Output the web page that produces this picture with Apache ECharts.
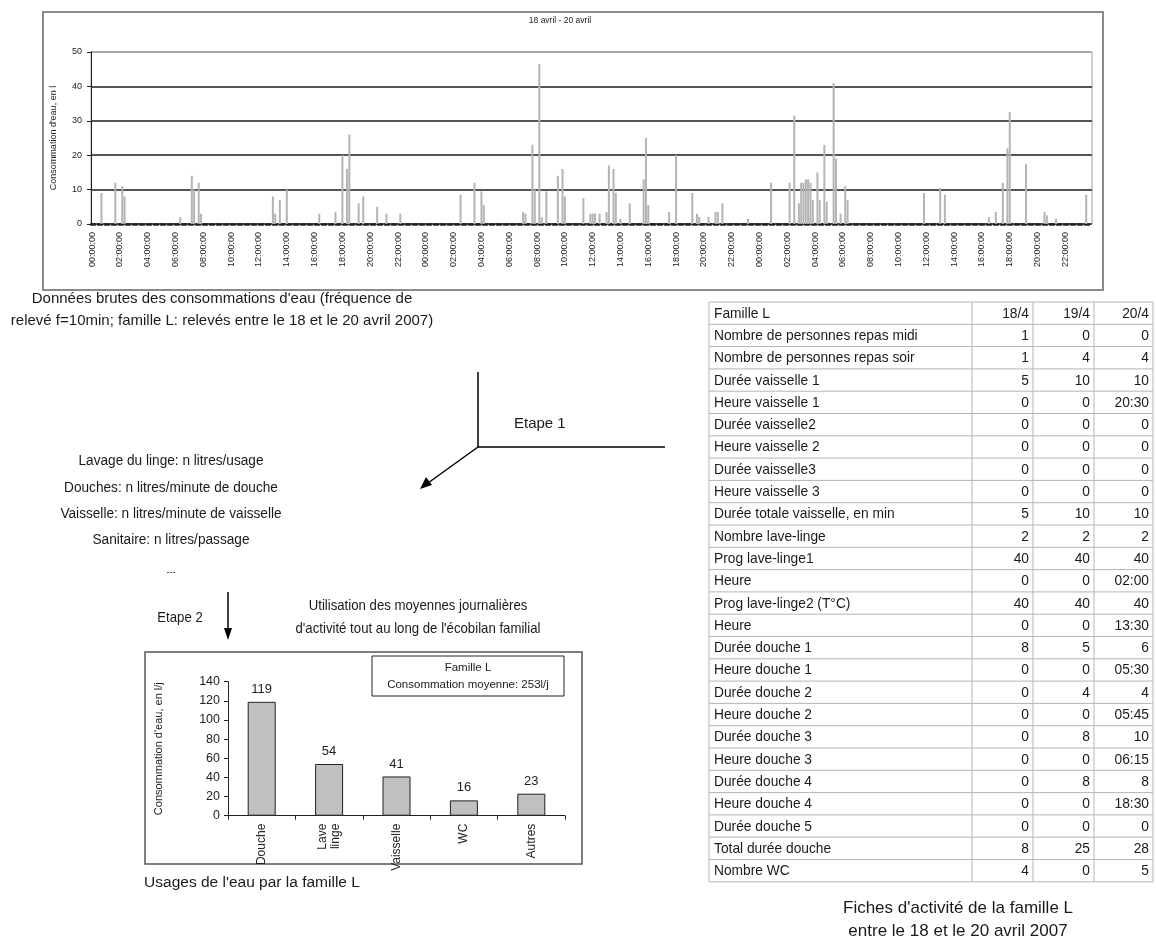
<!DOCTYPE html>
<html><head><meta charset="utf-8">
<script src="https://cdn.jsdelivr.net/npm/echarts@6/dist/echarts.min.js"></script>
<style>html,body{margin:0;padding:0;background:#fff}#c{width:1156px;height:944px}</style>
</head><body><div id="c"></div><script>
// ---------- Top chart: raw 10-min readings, 18-20 April (432 slots) ----------
const slotsPerDay = 144;
const nDays = 3;
// non-zero readings: slot index (10-min step from 18/4 00:00) and value (litres)
const spikeSlots  = [4,10,13,14,38,43,44,46,47,78,79,81,84,98,105,108,110,111,115,117,123,127,133,
  159,165,168,169,186,187,190,191,193,194,196,201,203,204,212,215,216,217,219,222,223,225,226,228,232,
  238,239,240,249,252,259,261,262,266,269,270,272,283,293,301,303,305,306,307,308,309,310,311,313,314,
  316,317,320,321,323,325,326,359,366,368,387,390,393,395,396,403,411,412,416,429];
const spikeValues = [9,12,11,8,2,14,10,12,3,8,3,7,10,3,3.5,20,16,26,6,8,5,3,3,
  8.5,12,9.5,5.5,3.5,3,23,10,46.5,2,9.5,14,16,8,7.5,3,3,3,3,3.5,17,16,9,1.5,6,
  13,25,5.5,3.5,20,9,3,2,2,3.5,3.5,6,1.5,12,12,31.5,6,12,12,13,13,12,7,15,7,
  23,6.5,41,19,3,11,7,9,10.5,8.5,2,3.5,12,22,32.5,17.5,3.5,2.5,1.5,8.5];
const topYTicks = {min: 0, max: 50, interval: 10};
const topTitle = '18 avril - 20 avril';
const topYName = "Consommation d'eau, en l";

// ---------- Bottom chart: daily uses ----------
const usageCategories = ['Douche', 'Lave\nlinge', 'Vaisselle', 'WC', 'Autres'];
const usageValues = [119, 54, 41, 16, 23];
const usageYTicks = {min: 0, max: 140, interval: 20};
const usageYName = "Consommation d'eau, en l/j";
const usageLegend = ['Famille L', 'Consommation moyenne: 253l/j'];

// ---------- Activity table ----------
const tableHeader = ['Famille L', '18/4', '19/4', '20/4'];
const tableLabels = ['Nombre de personnes repas midi','Nombre de personnes repas soir','Durée vaisselle 1',
  'Heure vaisselle 1','Durée vaisselle2','Heure vaisselle 2','Durée vaisselle3','Heure vaisselle 3',
  'Durée totale vaisselle, en min','Nombre lave-linge','Prog lave-linge1','Heure','Prog lave-linge2 (T°C)',
  'Heure','Durée douche 1','Heure douche 1','Durée douche 2','Heure douche 2','Durée douche 3',
  'Heure douche 3','Durée douche 4','Heure douche 4','Durée douche 5','Total durée douche','Nombre WC'];
const col18 = ['1','1','5','0','0','0','0','0','5','2','40','0','40','0','8','0','0','0','0','0','0','0','0','8','4'];
const col19 = ['0','4','10','0','0','0','0','0','10','2','40','0','40','0','5','0','4','0','8','0','8','0','0','25','0'];
const col20 = ['0','4','10','20:30','0','0','0','0','10','2','40','02:00','40','13:30','6','05:30','4','05:45','10','06:15','8','18:30','0','28','5'];

// ---------- Texts ----------
const captionTop = ["Données brutes des consommations d'eau (fréquence de",
  "relevé f=10min; famille L: relevés entre le 18 et le 20 avril 2007)"];
const etape1 = 'Etape 1';
const ratioLines = ['Lavage du linge: n litres/usage', 'Douches: n litres/minute de douche',
  'Vaisselle: n litres/minute de vaisselle', 'Sanitaire: n litres/passage'];
const etape2 = 'Etape 2';
const etape2Text = ['Utilisation des moyennes journalières', "d'activité tout au long de l'écobilan familial"];
const captionBottom = "Usages de l'eau par la famille L";
const captionTable = ["Fiches d'activité de la famille L", 'entre le 18 et le 20 avril 2007'];

// ---------- build ----------
const FONT = 'Liberation Sans, Arial, sans-serif';
const timeLabels = [];
for (let d = 0; d < nDays; d++) for (let s = 0; s < slotsPerDay; s++) {
  const h = Math.floor(s / 6), m = (s % 6) * 10;
  timeLabels.push(String(h).padStart(2,'0') + ':' + String(m).padStart(2,'0') + ':00');
}
const rawData = timeLabels.map(() => 0);
spikeSlots.forEach((k, j) => { rawData[k] = spikeValues[j]; });

const graphics = [];
function txt(x, y, s, size, align, sx) {
  graphics.push({type:'text', x, y, scaleX: sx || 1, silent:true, z: 10,
    style:{text:s, x:0, y:0, font: size + 'px ' + FONT, fill:'#1a1a1a', align: align || 'left', verticalAlign:'middle'}});
}
function line(x1, y1, x2, y2, w, c) {
  graphics.push({type:'line', silent:true, shape:{x1,y1,x2,y2}, style:{stroke:c || '#000', lineWidth:w || 1}});
}
function rect(x, y, w, h, stroke, lw) {
  graphics.push({type:'rect', silent:true, shape:{x,y,width:w,height:h}, style:{fill:'none', stroke, lineWidth:lw}});
}
// frames
rect(43, 12, 1060, 278, '#8a8a8a', 2);
rect(145, 652, 437, 212, '#555', 1.5);
rect(372, 656, 192, 40, '#222', 1);
txt(468, 668, usageLegend[0], 11.5, 'center');
txt(468, 685, usageLegend[1], 11.5, 'center');
txt(560, 21, topTitle, 8.5, 'center');
// captions & arrows
txt(222, 299, captionTop[0], 15, 'center');
txt(222, 321, captionTop[1], 15, 'center');
line(478, 372, 478, 447, 1.5);
line(478, 447, 665, 447, 1.5);
line(478, 447, 428, 483, 1.5);
graphics.push({type:'polygon', silent:true, shape:{points:[[420,489],[426,477],[432,485]]}, style:{fill:'#000'}});
txt(514, 424, etape1, 15, 'left');
ratioLines.forEach((s, i) => txt(171, 461 + i * 26.3, s, 15.5, 'center', 0.88));
txt(171, 573, '---', 9, 'center');
line(228, 592, 228, 630, 1.5);
graphics.push({type:'polygon', silent:true, shape:{points:[[224,628],[232,628],[228,640]]}, style:{fill:'#000'}});
txt(180, 618, etape2, 15, 'center', 0.88);
etape2Text.forEach((s, i) => txt(418, 606 + i * 23, s, 15, 'center', 0.88));
txt(252, 883, captionBottom, 15.5, 'center');
captionTable.forEach((s, i) => txt(958, 908 + i * 23, s, 17, 'center'));
// table
const tX = [709, 972, 1033, 1094, 1153];
const tTop = 302, rowH = 22.3;
const nRows = tableLabels.length + 1;
for (let r = 0; r <= nRows; r++) line(tX[0], tTop + r * rowH, tX[4], tTop + r * rowH, 1, '#b5b5b5');
tX.forEach(x => line(x, tTop, x, tTop + nRows * rowH, 1, '#b5b5b5'));
const rowsAll = [[tableHeader[0], tableHeader[1], tableHeader[2], tableHeader[3]]]
  .concat(tableLabels.map((l, i) => [l, col18[i], col19[i], col20[i]]));
rowsAll.forEach((row, r) => {
  const cy = tTop + (r + 0.5) * rowH + 0.5;
  txt(tX[0] + 5, cy, row[0], 14.5, 'left', 0.95);
  for (let c = 1; c <= 3; c++) txt(tX[c + 1] - 4, cy, row[c], 14.5, 'right', 0.95);
});

const chart = echarts.init(document.getElementById('c'), null, {renderer:'canvas'});
chart.setOption({
  backgroundColor: '#fff',
  animation: false,
  grid: [
    {left: 91, top: 52, width: 1001, height: 172, show: true, borderColor: '#a0a0a0', borderWidth: 1, backgroundColor: 'transparent'},
    {left: 228, top: 681.7, width: 337, height: 134}
  ],
  xAxis: [
    {gridIndex: 0, type: 'category', data: timeLabels,
      axisLine: {lineStyle: {color: '#222', width: 2.5, type: [4, 3]}},
      axisTick: {show: false},
      axisLabel: {interval: 11, rotate: 90, fontSize: 9, color: '#222', fontFamily: FONT, margin: 8}},
    {gridIndex: 1, type: 'category', data: usageCategories,
      axisLine: {lineStyle: {color: '#222', width: 1}},
      axisTick: {show: true, length: 4, lineStyle: {color: '#222'}},
      axisLabel: {rotate: 90, fontSize: 12, color: '#222', fontFamily: FONT, margin: 8, lineHeight: 13}}
  ],
  yAxis: [
    {gridIndex: 0, type: 'value', min: topYTicks.min, max: topYTicks.max, interval: topYTicks.interval,
      name: topYName, nameLocation: 'middle', nameRotate: 90, nameGap: 33,
      nameTextStyle: {fontSize: 9, color: '#222', fontFamily: FONT},
      axisLine: {show: true, lineStyle: {color: '#222', width: 1}},
      axisTick: {show: true, length: 4, lineStyle: {color: '#222'}},
      axisLabel: {fontSize: 9, color: '#222', fontFamily: FONT, margin: 9},
      splitLine: {lineStyle: {color: ['#555','#555','#555','#555','#555','#aaa'], width: 2}}},
    {gridIndex: 1, type: 'value', min: usageYTicks.min, max: usageYTicks.max, interval: usageYTicks.interval,
      name: usageYName, nameLocation: 'middle', nameRotate: 90, nameGap: 64,
      nameTextStyle: {fontSize: 11, color: '#222', fontFamily: FONT},
      axisLine: {show: true, lineStyle: {color: '#222', width: 1}},
      axisTick: {show: true, length: 4, lineStyle: {color: '#222'}},
      axisLabel: {fontSize: 12.5, color: '#222', fontFamily: FONT, margin: 8},
      splitLine: {show: false}}
  ],
  series: [
    {type: 'bar', xAxisIndex: 0, yAxisIndex: 0, data: rawData, barWidth: 2,
      itemStyle: {color: '#b4b4b4'}, silent: true},
    {type: 'bar', xAxisIndex: 1, yAxisIndex: 1, data: usageValues, barWidth: 28,
      itemStyle: {color: '#c0c0c0', borderColor: '#222', borderWidth: 1},
      label: {show: true, position: 'top', fontSize: 13, color: '#222', fontFamily: FONT, distance: 6}, silent: true}
  ],
  graphic: graphics
});
</script></body></html>
